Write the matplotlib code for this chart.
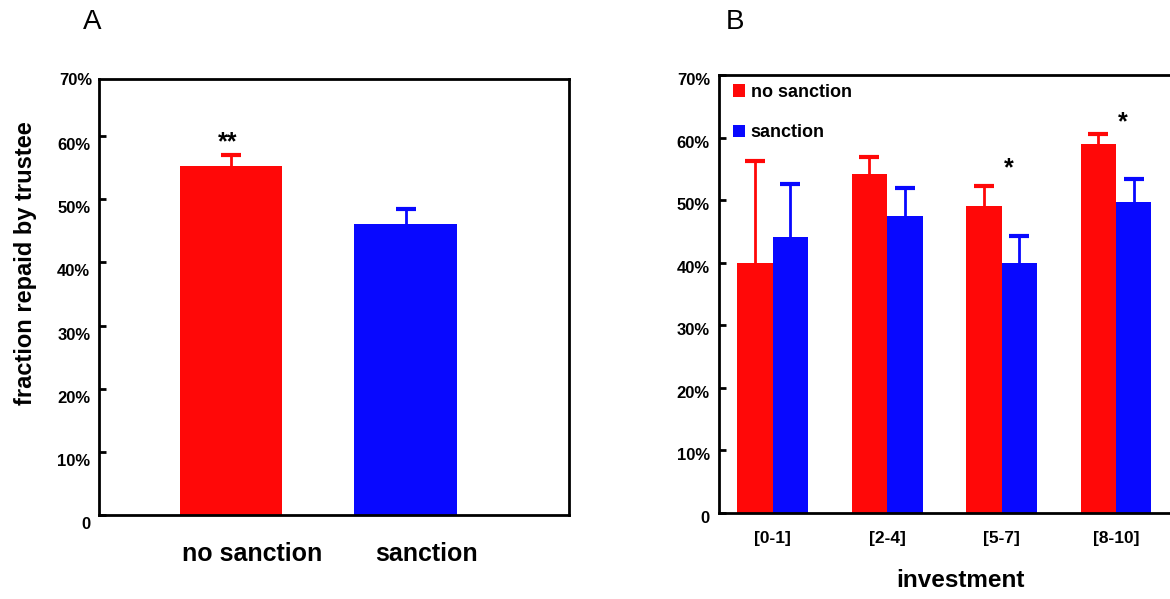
import numpy as np
import matplotlib
matplotlib.use("Agg")
import matplotlib.pyplot as plt
from matplotlib.transforms import ScaledTranslation

plt.rcParams['font.family'] = ['Liberation Sans', 'DejaVu Sans']

# panel A data
conds = ['no sanction', 'sanction']
a_mean = [0.553, 0.461]
a_err = [0.017, 0.024]

# panel B data
groups = ['[0-1]', '[2-4]', '[5-7]', '[8-10]']
b_nosanc = [0.400, 0.541, 0.491, 0.590]
b_nosanc_err = [0.163, 0.028, 0.032, 0.016]
b_sanc = [0.441, 0.475, 0.400, 0.497]
b_sanc_err = [0.085, 0.045, 0.042, 0.036]

yticks = [0, 0.1, 0.2, 0.3, 0.4, 0.5, 0.6, 0.7]
ylabels = ['0', '10%', '20%', '30%', '40%', '50%', '60%', '70%']

RED = '#ff0808'
BLUE = '#0808ff'


def up_errorbar(ax, x, y, err, color):
    # only the upper half of the error bar, like the original figure
    eb = ax.errorbar(x, y, yerr=[np.zeros(len(err)), err], fmt='none', ecolor=color,
                     elinewidth=2, capsize=7, capthick=3, zorder=1)
    eb[1][0].set_visible(False)


fig = plt.figure(figsize=(11.7, 5.99), dpi=100)
axA = fig.add_axes([0.0849, 0.1394, 0.4015, 0.7287])
axB = fig.add_axes([0.6145, 0.1436, 0.3863, 0.7312])

for ax in (axA, axB):
    for s in ax.spines.values():
        s.set_linewidth(2.0)
        s.set_zorder(3)
    ax.tick_params(axis='y', direction='in', length=5, width=2, pad=6.5, labelsize=12)
    ax.tick_params(axis='x', length=0)

# ---- panel A
xa = np.array([1, 2])
axA.bar(xa, a_mean, width=0.585, color=[RED, BLUE], zorder=2)
up_errorbar(axA, xa[:1], a_mean[:1], a_err[:1], RED)
up_errorbar(axA, xa[1:], a_mean[1:], a_err[1:], BLUE)
axA.set_xlim(0.249, 2.935)
axA.set_ylim(0, 0.69)
axA.set_yticks(yticks[:-1])
axA.set_yticklabels(ylabels[:-1], fontweight='bold')
off = ScaledTranslation(0, -0.08, fig.dpi_scale_trans)
for lab in axA.get_yticklabels():
    lab.set_transform(lab.get_transform() + off)
axA.text(0, 0.70, ylabels[-1], transform=axA.get_yaxis_transform() + off
         + ScaledTranslation(-0.065, 0, fig.dpi_scale_trans),
         ha='right', va='center', fontsize=12, fontweight='bold')
axA.set_xticks(xa + 0.12)
axA.set_xticklabels(conds, fontsize=18, fontweight='bold')
axA.tick_params(axis='x', pad=19)
axA.set_ylabel('fraction repaid by trustee', fontsize=17, fontweight='bold', va='center')
axA.yaxis.set_label_coords(-0.158, 0.578)
axA.text(0.98, 0.59, '**', ha='center', va='center', fontsize=18, fontweight='bold')

# ---- panel B
xb = np.arange(len(groups))
w = 0.31
axB.bar(xb - w / 2, b_nosanc, width=w, color=RED, label='no sanction', zorder=2)
axB.bar(xb + w / 2, b_sanc, width=w, color=BLUE, label='sanction', zorder=2)
up_errorbar(axB, xb - w / 2, b_nosanc, b_nosanc_err, RED)
up_errorbar(axB, xb + w / 2, b_sanc, b_sanc_err, BLUE)
axB.set_xlim(-0.47, 3.48)
axB.set_ylim(0, 0.7)
axB.set_yticks(yticks)
axB.set_yticklabels(ylabels, fontweight='bold')
offB = ScaledTranslation(0, -0.04, fig.dpi_scale_trans)
for lab in axB.get_yticklabels():
    lab.set_transform(lab.get_transform() + offB)
axB.set_xticks(xb)
axB.set_xticklabels(groups, fontsize=12.5, fontweight='bold')
axB.tick_params(axis='x', pad=13)
axB.set_xlabel('investment', fontsize=17.5, fontweight='bold')
axB.xaxis.set_label_coords(0.535, -0.128)
axB.legend(loc='upper left', bbox_to_anchor=(0.03, 0.98), frameon=False,
           handlelength=0.7, handleheight=0.7, handletextpad=0.3, labelspacing=1.3,
           borderpad=0, borderaxespad=0, prop={'size': 13, 'weight': 'bold'})
axB.text(2.06, 0.551, '*', ha='center', va='center', fontsize=18, fontweight='bold')
axB.text(3.06, 0.625, '*', ha='center', va='center', fontsize=18, fontweight='bold')

fig.text(92 / 1170, 1 - 22 / 599, 'A', ha='center', va='center', fontsize=20)
fig.text(735 / 1170, 1 - 22 / 599, 'B', ha='center', va='center', fontsize=20)

fig.savefig('out.png', dpi=100)
